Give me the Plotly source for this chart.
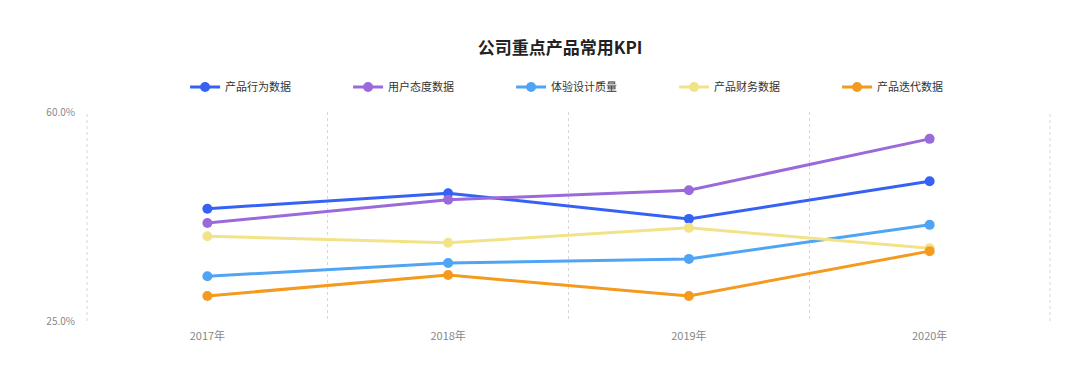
import plotly.graph_objects as go

years = ["2017年", "2018年", "2019年", "2020年"]
series_names = ["产品行为数据", "用户态度数据", "体验设计质量", "产品财务数据", "产品迭代数据"]
behavior = [43.8, 46.4, 42.1, 48.4]
attitude = [41.4, 45.3, 46.9, 55.5]
design = [32.5, 34.7, 35.4, 41.1]
finance = [39.2, 38.1, 40.6, 37.2]
iteration = [29.2, 32.7, 29.2, 36.7]
colors = ["#3562F5", "#9A6ADB", "#4FA5F4", "#F3E388", "#F39A1F"]
y_ticks = [25, 60]
y_tick_text = ["25.0%", "60.0%"]

all_series = [behavior, attitude, design, finance, iteration]
xpos = list(range(len(years)))

fig = go.Figure()
for name, vals, col in zip(series_names, all_series, colors):
    fig.add_trace(go.Scatter(
        x=xpos, y=vals, name=name, mode="lines+markers",
        line=dict(color=col, width=3),
        marker=dict(color=col, size=10),
    ))

grid_style = dict(color="#d8d8d8", width=1, dash="dot")
for edge in (0, 1):
    fig.add_shape(type="line", xref="paper", yref="paper", x0=edge, x1=edge,
                  y0=0, y1=1, line=grid_style, layer="below")

font_family = "Noto Sans CJK SC, Noto Sans, sans-serif"
fig.update_layout(
    width=1072, height=367,
    margin=dict(l=79, r=30, t=104, b=54, autoexpand=False),
    paper_bgcolor="white", plot_bgcolor="white",
    font=dict(family=font_family, color="#333"),
    title=dict(text="<b>公司重点产品常用KPI</b>", x=0.515, xanchor="center",
               y=0.891, yanchor="middle", font=dict(size=17, color="#222")),
    showlegend=True,
    legend=dict(orientation="h", x=0.525, xanchor="center", y=1.12, yanchor="middle",
                entrywidth=118, entrywidthmode="pixels", itemwidth=30,
                font=dict(size=11, color="#333")),
)
fig.update_xaxes(
    range=[-0.5, 3.5], tickvals=xpos, ticktext=years,
    showgrid=False, zeroline=False, showline=False, ticks="",
    tickfont=dict(size=11, color="#888"), ticklabelstandoff=7,
    minor=dict(tick0=0.5, dtick=1, showgrid=True, gridcolor="#d8d8d8",
               griddash="dot", gridwidth=1, ticks=""),
)
fig.update_yaxes(
    range=[25, 60], tickvals=y_ticks, ticktext=y_tick_text,
    showgrid=False, zeroline=False, showline=False, ticks="",
    tickfont=dict(size=10, color="#888"), ticklabelstandoff=11,
)
fig.write_html("out.html")
